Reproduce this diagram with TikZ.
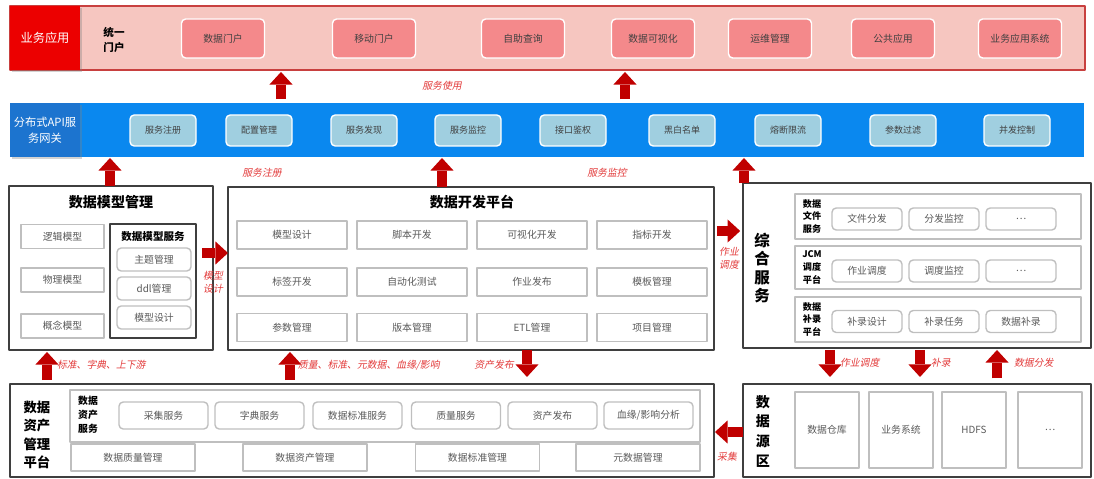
\documentclass[tikz,border=0pt]{standalone}
\usepackage{fontspec}
\setmainfont{Noto Sans CJK SC}
\newfontfamily\slantfont[FakeSlant=0.2]{Noto Sans CJK SC}
\usetikzlibrary{arrows.meta,shadows}
\definecolor{bandred}{HTML}{F6C6C0}
\definecolor{bandline}{HTML}{C8403F}
\definecolor{appred}{HTML}{EC0000}
\definecolor{pinkbox}{HTML}{F4898B}
\definecolor{gwblue}{HTML}{0A88EF}
\definecolor{gwdark}{HTML}{1C74CF}
\definecolor{gwbox}{HTML}{A0CFE0}
\definecolor{arrred}{HTML}{C00000}
\definecolor{lblred}{HTML}{E23A3A}
\definecolor{boxline}{HTML}{BFBFBF}
\definecolor{boxtext}{HTML}{595959}
\definecolor{panelline}{HTML}{3F3F3F}
\tikzset{
  wh/.style 2 args={minimum width=#1*0.025cm, minimum height=#2*0.025cm},
  every node/.style={inner sep=0pt, outer sep=0pt},
  pinkbtn/.style={fill=pinkbox, draw=white, line width=1pt, rounded corners=3pt, text=black!75, font=\fontsize{7}{8}\selectfont, wh={83}{39}},
  bluebtn/.style={fill=gwbox, draw=white, line width=1pt, rounded corners=3pt, text=black!75, font=\fontsize{6.4}{7}\selectfont, wh={66}{31}},
  greybox/.style={draw=boxline, line width=1pt, text=boxtext, font=\fontsize{7}{8}\selectfont},
  rgreybox/.style={greybox, rounded corners=3pt},
  panel/.style={draw=panelline, line width=1pt},
  sidelbl/.style={text=white, align=center, drop shadow={opacity=0.35, shadow xshift=1.2pt, shadow yshift=-1.2pt}},
  title/.style={font=\bfseries\fontsize{10}{12}\selectfont},
  sublbl/.style={font=\bfseries\fontsize{6.5}{9}\selectfont, align=center},
  lbl/.style={text=lblred, font=\slantfont\fontsize{7}{9}\selectfont, align=center},
  bigarrow/.style={draw=arrred, line width=7pt, -{Triangle[width=16.5pt,length=9pt,line width=0pt]}}
}
\begin{document}
\begin{tikzpicture}[x=0.025cm, y=-0.025cm, line join=round]
\useasboundingbox (0,0) rectangle (1094,479);
% business applications
\node[wh={1075}{64}, fill=bandred, draw=bandline, line width=0.8pt] (app) at (547.5,38) {};
\node[sidelbl, wh={70}{64}, fill=appred, font=\fontsize{8.7}{10}\selectfont] (appl) at (45,38) {业务应用};
\node[font=\bfseries\fontsize{7.5}{10}\selectfont, align=left] (portal) at (114,40) {统一\\门户};
\foreach \x/\t [count=\i] in {223/数据门户, 374/移动门户, 523/自助查询, 653/数据可视化, 770/运维管理, 893/公共应用, 1020/业务应用系统}
  \node[pinkbtn] (p\i) at (\x,38.5) {\t};

% API gateway
\node[wh={1074}{54}, fill=gwblue] (gw) at (547,130) {};
\node[sidelbl, wh={70}{54}, fill=gwdark, font=\fontsize{8}{11}\selectfont] (gwl) at (45,130) {分布式API服\\务网关};
\foreach \x/\t [count=\i] in {163/服务注册, 259/配置管理, 364/服务发现, 468/服务监控, 573/接口鉴权, 682/黑白名单, 788/熔断限流, 903/参数过滤, 1017/并发控制}
  \node[bluebtn] (g\i) at (\x,130.5) {\t};

% data model management
\node[panel, wh={204}{164}] (dmm) at (111,268) {};
\node[title] (dmmt) at (111,202) {数据模型管理};
\foreach \y/\t [count=\i] in {236.5/逻辑模型, 280/物理模型, 326/概念模型}
  \node[greybox, wh={83}{24}] (m\i) at (62.5,\y) {\t};
\node[panel, wh={86}{114}] (dms) at (153,281) {};
\node[font=\bfseries\fontsize{7.5}{9}\selectfont] (dmst) at (153,237) {数据模型服务};
\foreach \y/\t [count=\i] in {259.5/主题管理, 288.5/ddl管理, 317.5/模型设计}
  \node[rgreybox, wh={74}{23}] (s\i) at (154,\y) {\t};

% data development platform
\node[panel, wh={486}{163}] (dev) at (471,268.5) {};
\node[title] (devt) at (472,202) {数据开发平台};
\foreach \y/\row [count=\r] in {235/{模型设计,脚本开发,可视化开发,指标开发}, 282/{标签开发,自动化测试,作业发布,模板管理}, 327.5/{参数管理,版本管理,ETL管理,项目管理}}
  \foreach \t [count=\c] in \row
    \node[greybox, wh={110}{28}] (d\r\c) at ({172+120*\c},\y) {\t};

% integrated services
\node[panel, wh={348}{165}] (comp) at (917,265.5) {};
\node[font=\bfseries\fontsize{11}{13}\selectfont, align=center] (compt) at (762,268) {综\\合\\服\\务};
\foreach \y/\h/\lab [count=\i] in {216.5/45/{数据\\文件\\服务}, 267.5/43/{JCM\\调度\\平台}, 319.5/45/{数据\\补录\\平台}}{
  \node[greybox, wh={286}{\h}] (f\i) at (938,\y) {};
  \node[sublbl] (fl\i) at (812,\y) {\lab};
}
\foreach \y/\row [count=\r] in {219/{文件分发,分发监控,…}, 271/{作业调度,调度监控,…}, 321.5/{补录设计,补录任务,数据补录}}
  \foreach \t [count=\c] in \row
    \node[rgreybox, wh={70}{22}] (c\r\c) at ({790+77*\c},\y) {\t};

% data asset management
\node[panel, wh={704}{93}] (dam) at (362,430.5) {};
\node[font=\bfseries\fontsize{9.5}{13}\selectfont, align=center] (damt) at (37,435) {数据\\资产\\管理\\平台};
\node[greybox, wh={630}{52}] (das) at (385,416) {};
\node[sublbl, font=\bfseries\fontsize{7}{10}\selectfont] (dasl) at (88,415) {数据\\资产\\服务};
\foreach \x/\t [count=\i] in {163.5/采集服务, 259.5/字典服务, 357.5/数据标准服务, 456/质量服务, 552.5/资产发布, 648.5/{血缘/影响分析}}
  \node[rgreybox, wh={89}{27}] (a\i) at (\x,415.5) {\t};
\foreach \x/\t [count=\i] in {133/数据质量管理, 305/数据资产管理, 477.5/数据标准管理, 638/元数据管理}
  \node[greybox, wh={124}{27}] (b\i) at (\x,457.5) {\t};

% data sources
\node[panel, wh={348}{93}] (src) at (917,430.5) {};
\node[font=\bfseries\fontsize{10}{14}\selectfont, align=center] (srct) at (763,431) {数\\据\\源\\区};
\foreach \x/\t [count=\i] in {827/数据仓库, 901/业务系统, 974/HDFS, 1050/…}
  \node[greybox, wh={64}{76}] (t\i) at (\x,430) {\t};

% block arrows
\foreach \n/\x in {u1/281, u2/625, u3/110, u4/442, u5/744, u6/47, u7/290, u8/527, u9/830, u10/920, u11/997}
  \coordinate (\n) at (\x,0);
\coordinate (r1) at (0,253);
\coordinate (r2) at (0,231);
\coordinate (r3) at (0,432);
\draw[bigarrow, shorten <=2.8pt, shorten >=1.4pt] (gw.north -| u1) -- (app.south -| u1);
\draw[bigarrow, shorten <=2.8pt, shorten >=1.4pt] (gw.north -| u2) -- (app.south -| u2);
\draw[bigarrow, shorten >=0.7pt] (dmm.north -| u3) -- (gw.south -| u3);
\draw[bigarrow, shorten >=0.7pt] (dev.north -| u4) -- (gw.south -| u4);
\draw[bigarrow, shorten >=0.7pt] (comp.north -| u5) -- (gw.south -| u5);
\draw[bigarrow, shorten <=-8pt] (dmm.east |- r1) -- (dev.west |- r1);
\draw[bigarrow, shorten <=2pt, shorten >=2pt] (dev.east |- r2) -- (comp.west |- r2);
\draw[bigarrow, shorten <=2.8pt, shorten >=1.4pt] (dam.north -| u6) -- (dmm.south -| u6);
\draw[bigarrow, shorten <=2.8pt, shorten >=1.4pt] (dam.north -| u7) -- (dev.south -| u7);
\draw[bigarrow, shorten >=5pt] (dev.south -| u8) -- (dam.north -| u8);
\draw[bigarrow, shorten <=1.4pt, shorten >=5pt] (comp.south -| u9) -- (src.north -| u9);
\draw[bigarrow, shorten <=1.4pt, shorten >=5pt] (comp.south -| u10) -- (src.north -| u10);
\draw[bigarrow, shorten <=4pt, shorten >=1.4pt] (src.north -| u11) -- (comp.south -| u11);
\draw[bigarrow, shorten >=0.7pt] (src.west |- r3) -- (dam.east |- r3);

% arrow labels
\node[lbl] (l1) at (442,86) {服务使用};
\node[lbl] (l2) at (262,173) {服务注册};
\node[lbl] (l3) at (607,173) {服务监控};
\node[lbl] (l4) at (213,282) {模型\\设计};
\node[lbl] (l5) at (729,258) {作业\\调度};
\node[lbl, anchor=west] (l6) at (57,365) {标准、字典、上下游};
\node[lbl, anchor=west] (l7) at (298,365) {质量、标准、元数据、血缘/影响};
\node[lbl] (l8) at (494,365) {资产发布};
\node[lbl, anchor=west] (l9) at (840,363) {作业调度};
\node[lbl, anchor=west] (l10) at (931,363) {补录};
\node[lbl, anchor=west] (l11) at (1014,363) {数据分发};
\node[lbl] (l12) at (727,457) {采集};
\end{tikzpicture}
\end{document}
